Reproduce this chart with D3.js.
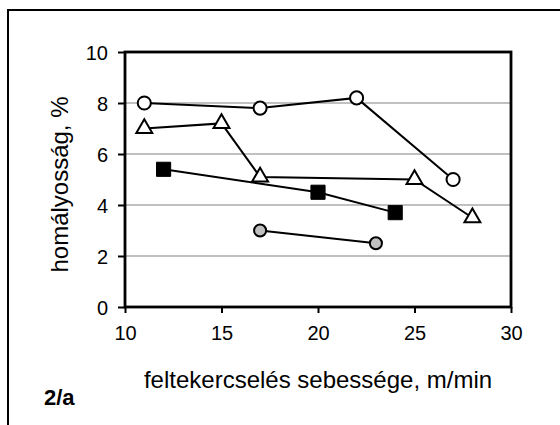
<!DOCTYPE html>
<html><head><meta charset="utf-8">
<script src="https://cdn.jsdelivr.net/npm/d3@7"></script>
<style>
html,body{margin:0;padding:0;background:#fff;}
svg{display:block;font-family:"Liberation Sans",Arial,sans-serif;}
</style></head>
<body>
<svg id="chart" width="560" height="425"></svg>
<script>
// Data
const openCircleX = [11, 17, 22, 27];
const openCircleY = [8.0, 7.8, 8.2, 5.0];
const triangleX = [11, 15, 17, 25, 28];
const triangleY = [7.0, 7.2, 5.1, 5.0, 3.5];
const squareX = [12, 20, 24];
const squareY = [5.4, 4.5, 3.7];
const grayCircleX = [17, 23];
const grayCircleY = [3.0, 2.5];
const xTicks = [10, 15, 20, 25, 30];
const yTicks = [0, 2, 4, 6, 8, 10];
const xTitle = "feltekercselés sebessége, m/min";
const yTitle = "homályosság, %";
const panelLabel = "2/a";

const svg = d3.select("#chart");
const L = 125, R = 511, T = 52, B = 307;
const x = d3.scaleLinear().domain([10, 30]).range([L, R]);
const y = d3.scaleLinear().domain([0, 10]).range([B, T]);

// outer frame (top and left visible)
svg.append("path").attr("d", `M8,425 L8,10 L560,10`).attr("fill","none").attr("stroke","#000").attr("stroke-width",2);

// gridlines
svg.append("g").selectAll("line").data(yTicks.filter(d => d > 0 && d < 10)).join("line")
  .attr("x1", L).attr("x2", R).attr("y1", d => y(d)).attr("y2", d => y(d))
  .attr("stroke", "#c0c0c0").attr("stroke-width", 2);

// axes
const xAxis = d3.axisBottom(x).tickValues(xTicks).tickSize(6).tickPadding(12).tickFormat(d3.format("d"));
const yAxis = d3.axisLeft(y).tickValues(yTicks).tickSize(7).tickPadding(10).tickFormat(d3.format("d"));
const gx = svg.append("g").attr("transform", `translate(0,${B})`).call(xAxis);
const gy = svg.append("g").attr("transform", `translate(${L},0)`).call(yAxis);
[gx, gy].forEach(g => {
  g.select(".domain").remove();
  g.selectAll(".tick line").attr("stroke", "#000").attr("stroke-width", 2);
  g.selectAll(".tick text").attr("font-size", 20).attr("fill", "#000").attr("font-family", "Liberation Sans, Arial, sans-serif");
});
gy.selectAll(".tick text").attr("dy", "0.36em");
gx.selectAll(".tick text").attr("dy", "0.75em");

// plot border
svg.append("rect").attr("x", L).attr("y", T).attr("width", R - L).attr("height", B - T)
  .attr("fill", "none").attr("stroke", "#000").attr("stroke-width", 2.8);

// series
const line = d3.line().x(d => x(d[0])).y(d => y(d[1]));
function zipXY(xs, ys){ return xs.map((v,i)=>[v, ys[i]]); }
const sOpen = zipXY(openCircleX, openCircleY);
const sTri = zipXY(triangleX, triangleY);
const sSq = zipXY(squareX, squareY);
const sGray = zipXY(grayCircleX, grayCircleY);

[sOpen, sTri, sSq, sGray].forEach(s => {
  svg.append("path").datum(s).attr("d", line).attr("fill","none").attr("stroke","#000").attr("stroke-width",2);
});

const sym = (type, size) => d3.symbol().type(type).size(size)();
svg.append("g").selectAll("path").data(sOpen).join("path")
  .attr("transform", d => `translate(${x(d[0])},${y(d[1])})`)
  .attr("d", sym(d3.symbolCircle, 135)).attr("fill","#fff").attr("stroke","#000").attr("stroke-width",2);
svg.append("g").selectAll("path").data(sTri).join("path")
  .attr("transform", d => `translate(${x(d[0])},${y(d[1])})`)
  .attr("d", sym(d3.symbolTriangle, 110)).attr("fill","#fff").attr("stroke","#000").attr("stroke-width",2);
svg.append("g").selectAll("path").data(sSq).join("path")
  .attr("transform", d => `translate(${x(d[0])},${y(d[1])})`)
  .attr("d", sym(d3.symbolSquare, 200)).attr("fill","#000").attr("stroke","#000").attr("stroke-width",1);
svg.append("g").selectAll("path").data(sGray).join("path")
  .attr("transform", d => `translate(${x(d[0])},${y(d[1])})`)
  .attr("d", sym(d3.symbolCircle, 115)).attr("fill","#c0c0c0").attr("stroke","#000").attr("stroke-width",2);

// titles
svg.append("text").attr("x", (L + R) / 2).attr("y", 388).attr("text-anchor","middle")
  .attr("font-size", 24).attr("fill","#000").text(xTitle);
svg.append("text").attr("transform", `translate(68,${(T + B) / 2 + 5}) rotate(-90)`).attr("text-anchor","middle")
  .attr("font-size", 24).attr("fill","#000").text(yTitle);
svg.append("text").attr("x", 44).attr("y", 405).attr("font-size", 22).attr("font-weight","bold")
  .attr("fill","#000").text(panelLabel);
</script>
</body></html>
